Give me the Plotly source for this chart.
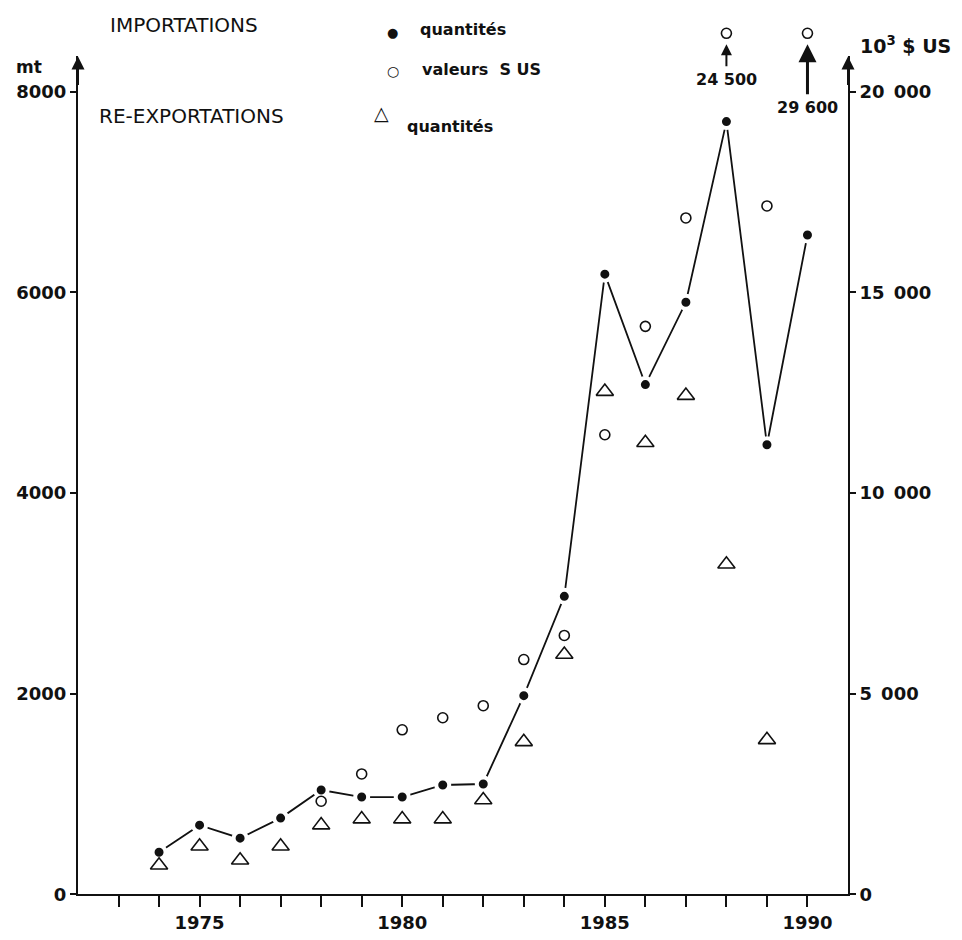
import plotly.graph_objects as go

# ---- data -------------------------------------------------------------
years = list(range(1974, 1991))
import_qty = [420, 690, 560, 760, 1040, 970, 970, 1090, 1100,
              1980, 2970, 6180, 5080, 5900, 7700, 4480, 6570]          # mt

value_years = list(range(1978, 1991))
import_value = [2320, 3000, 4100, 4400, 4700, 5850, 6450,
                11450, 14150, 16850, 24500, 17150, 29600]               # 10^3 $ US

reexport_years = list(range(1974, 1990))
reexport_qty = [290, 480, 340, 480, 690, 750, 750, 750, 940,
                1520, 2390, 5010, 4500, 4970, 3290, 1540]               # mt

tick_years = list(range(1973, 1991))
labelled_years = [1975, 1980, 1985, 1990]
left_ticks = [0, 2000, 4000, 6000, 8000]
right_ticks = [0, 5000, 10000, 15000, 20000]

# ---- styling ----------------------------------------------------------
INK = "#111111"
FONT = "DejaVu Sans"
W, H = 962, 940
X0_PX, X1_PX = 78, 848          # frame, left / right
Y0_PX, YTOP_PX = 904, 57        # frame, bottom / top of axis lines
LEFT_MAX = 8350
RATIO = 2.5                      # 10^3 $ per mt on the twin scale
RIGHT_MAX = LEFT_MAX * RATIO
OVERFLOW_ROW = 21450             # row above the frame for off-scale values
# value circles live on a hidden axis with the same scale, reaching the top
VALUE_SPAN = RIGHT_MAX * Y0_PX / (Y0_PX - YTOP_PX)


def paper(x, y):
    return x / W, 1 - y / H


def spaced(n):
    return f"{n:,}".replace(",", " ")


fig = go.Figure()

# imports, quantities: dots joined by a line (white ring leaves a small gap)
fig.add_trace(go.Scatter(
    x=years, y=import_qty, mode="lines+markers", xaxis="x", yaxis="y",
    line=dict(color=INK, width=1.8),
    marker=dict(size=13, color=INK, line=dict(color="white", width=4)),
    cliponaxis=False, showlegend=False, hoverinfo="skip"))

# re-exports, quantities: open triangles
fig.add_trace(go.Scatter(
    x=reexport_years, y=reexport_qty, mode="markers", xaxis="x", yaxis="y",
    marker=dict(size=15, symbol="triangle-up-open", color=INK,
                line=dict(color=INK, width=1.6)),
    cliponaxis=False, showlegend=False, hoverinfo="skip"))

# imports, values: open circles on the right-hand scale
shown_value = [v if v <= RIGHT_MAX else OVERFLOW_ROW for v in import_value]
fig.add_trace(go.Scatter(
    x=value_years, y=shown_value, mode="markers", xaxis="x", yaxis="y3",
    marker=dict(size=10, symbol="circle-open", color=INK,
                line=dict(color=INK, width=1.6)),
    cliponaxis=False, showlegend=False, hoverinfo="skip"))

# invisible trace so the right-hand axis is drawn
fig.add_trace(go.Scatter(x=[], y=[], xaxis="x", yaxis="y2",
                         showlegend=False, hoverinfo="skip"))

tick_font = dict(family=FONT, size=18, color=INK, weight="bold")

fig.update_layout(
    width=W, height=H, margin=dict(l=0, r=0, t=0, b=0),
    paper_bgcolor="white", plot_bgcolor="rgba(0,0,0,0)",
    xaxis=dict(
        domain=[X0_PX / W, X1_PX / W], range=[1972, 1991],
        showline=True, linewidth=2, linecolor=INK,
        ticks="outside", ticklen=11, tickwidth=1.6, tickcolor=INK,
        tickvals=tick_years,
        ticktext=[str(y) if y in labelled_years else "" for y in tick_years],
        tickfont=tick_font, showgrid=False, zeroline=False, anchor="y"),
    yaxis=dict(
        domain=[1 - Y0_PX / H, 1 - YTOP_PX / H], range=[0, LEFT_MAX],
        showline=True, linewidth=2, linecolor=INK,
        ticks="outside", ticklen=6, tickwidth=1.6, tickcolor=INK,
        tickvals=left_ticks, ticktext=[str(v) for v in left_ticks],
        tickfont=tick_font, showgrid=False, zeroline=False, anchor="x"),
    yaxis2=dict(
        overlaying="y", side="right", range=[0, RIGHT_MAX],
        showline=True, linewidth=2, linecolor=INK,
        ticks="outside", ticklen=6, tickwidth=1.6, tickcolor=INK,
        tickvals=right_ticks,
        ticktext=[spaced(v).replace(" ", "\u2002") if v else "0"
                  for v in right_ticks],
        tickfont=tick_font, showgrid=False, zeroline=False, anchor="x"),
    yaxis3=dict(
        domain=[1 - Y0_PX / H, 1], range=[0, VALUE_SPAN],
        visible=False, showgrid=False, zeroline=False, anchor="x"),
)

ann = []

# arrow heads on the two vertical axes
for xv, yref, top in [(1972, "y", LEFT_MAX), (1991, "y2", RIGHT_MAX)]:
    ann.append(dict(x=xv, y=top, xref="x", yref=yref, text="",
                    showarrow=True, ax=0, ay=30, arrowhead=2,
                    arrowsize=1.3, arrowwidth=2, arrowcolor=INK))

# off-scale values: arrow up to the circle, value written underneath
for yr, v in zip(value_years, import_value):
    if v > RIGHT_MAX:
        big = v > 27000
        ann.append(dict(x=yr, y=OVERFLOW_ROW - 270, xref="x", yref="y3",
                        text=spaced(v), showarrow=True, ax=0,
                        ay=63 if big else 35,
                        arrowhead=2, arrowsize=1.2 if big else 1.1,
                        arrowwidth=3 if big else 2, arrowcolor=INK,
                        standoff=0, startstandoff=2,
                        font=dict(family=FONT, size=16, color=INK,
                                  weight="bold")))

lab = dict(family=FONT, size=20, color=INK)
small = dict(family=FONT, size=16, color=INK, weight="bold")


def text(x, y, s, font, anchor="left"):
    px_, py_ = paper(x, y)
    ann.append(dict(x=px_, y=py_, xref="paper", yref="paper", text=s,
                    showarrow=False, xanchor=anchor, yanchor="middle",
                    font=font))


text(108, 25, "IMPORTATIONS", lab)
text(392, 33, "●", dict(family=FONT, size=13, color=INK), "center")
text(418, 30, "quantités", small)
text(393, 72, "○", dict(family=FONT, size=14, color=INK), "center")
text(420, 70, "valeurs  S US", small)
text(97, 117, "RE-EXPORTATIONS", lab)
text(381, 114, "△", dict(family=FONT, size=19, color=INK), "center")
text(405, 128, "quantités", small)
text(29, 68, "mt", dict(family=FONT, size=17, color=INK, weight="bold"),
     "center")
text(858, 45, "10<sup>3</sup> $ US", dict(family=FONT, size=19, color=INK,
                                          weight="bold"))

fig.update_layout(annotations=ann)
fig.write_html("out.html")
